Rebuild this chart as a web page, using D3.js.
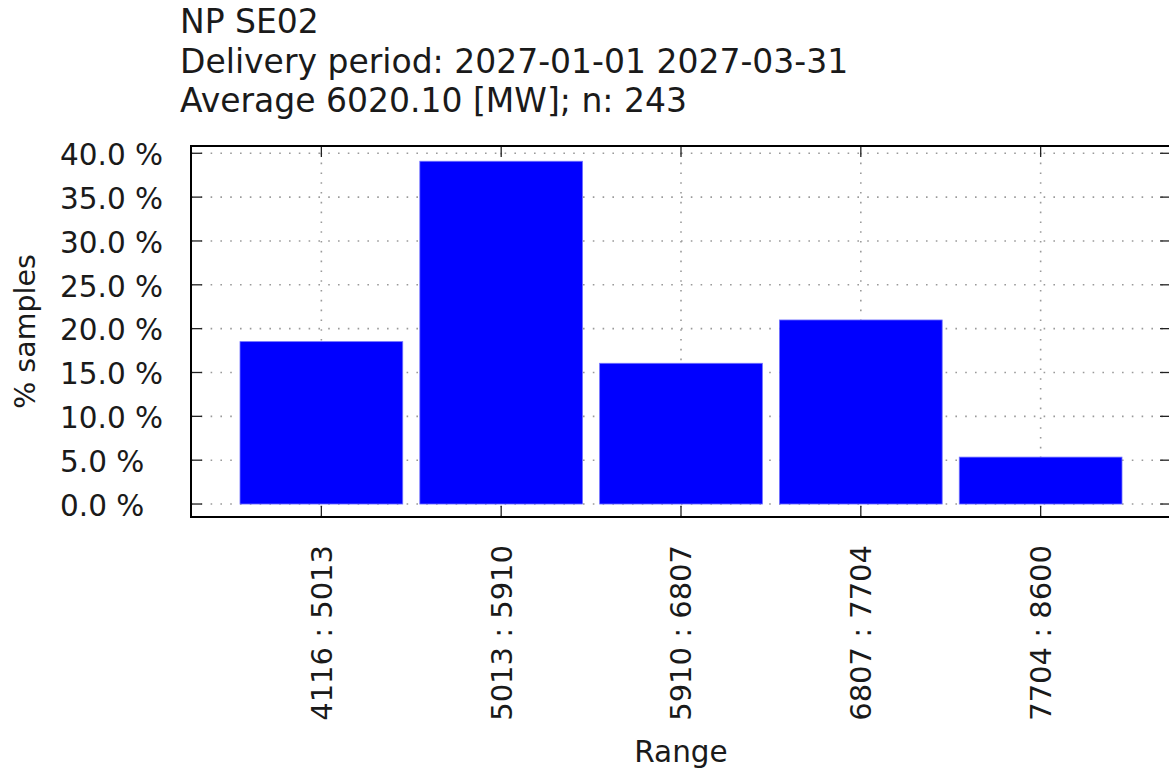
<!DOCTYPE html>
<html>
<head>
<meta charset="utf-8">
<script src="https://cdn.jsdelivr.net/npm/d3@7"></script>
<style>
  html, body { margin: 0; padding: 0; background: #fff; }
  svg { display: block; font-family: "DejaVu Sans", sans-serif; }
  .grid line { stroke: #9a9a9a; stroke-width: 1.6; stroke-dasharray: 1.6 8.2; }
</style>
</head>
<body>
<div id="chart"></div>
<script>
"use strict";

// chart data (counts of 243 samples, in %)
const titleLines = ["NP SE02", "Delivery period: 2027-01-01 2027-03-31", "Average 6020.10 [MW]; n: 243"];
const ranges = ["4116 : 5013", "5013 : 5910", "5910 : 6807", "6807 : 7704", "7704 : 8600"];
const percents = [18.52, 39.09, 16.05, 20.99, 5.35];
const yTicks = [0, 5, 10, 15, 20, 25, 30, 35, 40];
const xLabel = "Range";
const yLabel = "% samples";

const WIDTH = 1169, HEIGHT = 771;
const LEFT = 191, RIGHT = 1171, TOP = 146, BOTTOM = 517;

let svg = d3.select("#chart")
    .append("svg")
    .attr("width", WIDTH)
    .attr("height", HEIGHT);

let x = d3.scaleLinear()
    .domain([-0.725, ranges.length - 1 + 0.725])
    .range([LEFT, RIGHT]);
let y = d3.scaleLinear()
    .domain([-1.48, 40.83])
    .range([BOTTOM, TOP]);

const BAR = 0.905;

// grid
let grid = svg.append("g").attr("class", "grid");
grid.selectAll("line.h")
    .data(yTicks)
    .enter().append("line")
    .attr("x1", LEFT).attr("x2", RIGHT)
    .attr("y1", d => y(d)).attr("y2", d => y(d));
grid.selectAll("line.v")
    .data(ranges)
    .enter().append("line")
    .attr("x1", (d, i) => x(i)).attr("x2", (d, i) => x(i))
    .attr("y1", BOTTOM).attr("y2", TOP);

// bars
svg.append("g")
    .selectAll("rect")
    .data(percents)
    .enter().append("rect")
    .attr("x", (d, i) => x(i - BAR / 2))
    .attr("width", x(BAR) - x(0))
    .attr("y", d => y(d))
    .attr("height", d => y(0) - y(d))
    .attr("fill", "#0000ff")
    .attr("stroke", "#7070ff")
    .attr("stroke-width", 0.8);

// ticks (inward, mirrored)
let ticks = svg.append("g").attr("stroke", "#222").attr("stroke-width", 1.3);
ticks.selectAll("line.yl").data(yTicks).enter().append("line")
    .attr("x1", LEFT).attr("x2", LEFT + 11)
    .attr("y1", d => y(d)).attr("y2", d => y(d));
ticks.selectAll("line.yr").data(yTicks).enter().append("line")
    .attr("x1", RIGHT).attr("x2", RIGHT - 11)
    .attr("y1", d => y(d)).attr("y2", d => y(d));
ticks.selectAll("line.xb").data(ranges).enter().append("line")
    .attr("x1", (d, i) => x(i)).attr("x2", (d, i) => x(i))
    .attr("y1", BOTTOM).attr("y2", BOTTOM - 11);
ticks.selectAll("line.xt").data(ranges).enter().append("line")
    .attr("x1", (d, i) => x(i)).attr("x2", (d, i) => x(i))
    .attr("y1", TOP).attr("y2", TOP + 11);

// border
svg.append("rect")
    .attr("x", LEFT).attr("y", TOP)
    .attr("width", RIGHT - LEFT).attr("height", BOTTOM - TOP)
    .attr("fill", "none")
    .attr("stroke", "#000")
    .attr("stroke-width", 2);

// y tick labels (left aligned, as in the picture)
let fmt = d3.format(".1f");
svg.append("g")
    .selectAll("text")
    .data(yTicks)
    .enter().append("text")
    .attr("x", 60)
    .attr("y", d => y(d))
    .attr("dy", "0.4em")
    .attr("font-size", 29.5)
    .attr("fill", "#1a1a1a")
    .text(d => fmt(d) + " %");

// x tick labels, rotated
svg.append("g")
    .selectAll("text")
    .data(ranges)
    .enter().append("text")
    .attr("transform", (d, i) => "translate(" + x(i) + ",545) rotate(-90)")
    .attr("dy", "0.36em")
    .attr("text-anchor", "end")
    .attr("font-size", 29)
    .attr("fill", "#1a1a1a")
    .text(d => d);

// axis titles
svg.append("text")
    .attr("x", (LEFT + RIGHT) / 2)
    .attr("y", 762)
    .attr("text-anchor", "middle")
    .attr("font-size", 29.5)
    .attr("fill", "#1a1a1a")
    .text(xLabel);

svg.append("text")
    .attr("transform", "translate(35," + ((TOP + BOTTOM) / 2) + ") rotate(-90)")
    .attr("text-anchor", "middle")
    .attr("font-size", 28.5)
    .attr("fill", "#1a1a1a")
    .text(yLabel);

// title block
svg.append("g")
    .selectAll("text")
    .data(titleLines)
    .enter().append("text")
    .attr("x", 180)
    .attr("y", (d, i) => 33 + i * 39.5)
    .attr("font-size", 33)
    .attr("fill", "#1a1a1a")
    .text(d => d);
</script>
</body>
</html>
